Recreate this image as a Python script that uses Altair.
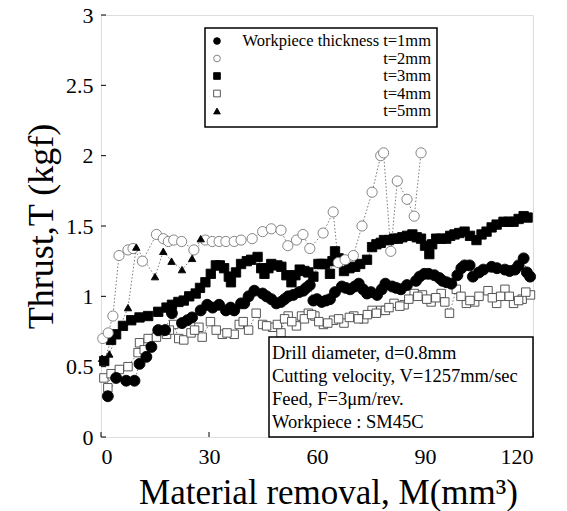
import altair as alt
import pandas as pd

# ---- data ----
m_t1 = [1.9, 4.2, 7.0, 9.3, 10.7, 12.6, 14.0, 15.9, 17.8, 19.7, 22.5, 25.3, 27.7, 29.5, 32.8, 34.7, 37.0, 38.9,
        39.8, 42.6, 44.9, 47.3, 48.7, 51.0, 53.4, 56.2, 58.0, 59.0, 61.3, 63.6, 66.9, 69.2, 71.6, 73.9, 76.7,
        79.0, 80.9, 83.3, 87.5, 89.8, 92.6, 94.9, 97.3, 100.1, 102.4, 103.3, 106.2, 108.5, 112.2, 115.0, 117.4, 119.2,
        24.0, 31.0, 36.0, 41.0, 46.0, 50.0, 52.0, 55.0, 57.0, 60.0, 62.5, 65.0, 68.0, 70.5, 72.8, 75.0, 78.0,
        82.0, 85.0, 88.5, 91.0, 94.0, 96.0, 99.0, 101.0, 105.0, 110.0, 113.5, 116.0, 118.3]
thrust_t1 = [0.29, 0.42, 0.40, 0.40, 0.52, 0.57, 0.64, 0.76, 0.76, 0.88, 0.81, 0.85, 0.90, 0.94, 0.94, 0.90, 0.90, 0.95,
             0.95, 1.04, 1.02, 0.98, 0.95, 0.98, 1.01, 1.04, 1.08, 0.97, 0.96, 0.98, 1.07, 1.05, 1.09, 1.02, 1.01,
             1.09, 1.07, 1.05, 1.11, 1.16, 1.15, 1.11, 1.09, 1.20, 1.22, 1.14, 1.19, 1.21, 1.19, 1.19, 1.27, 1.14,
             0.83, 0.92, 0.92, 1.00, 1.00, 0.96, 1.00, 1.03, 1.06, 0.98, 0.97, 1.03, 1.06, 1.07, 1.05, 1.03, 1.05,
             1.06, 1.08, 1.14, 1.16, 1.13, 1.10, 1.15, 1.22, 1.17, 1.20, 1.18, 1.22, 1.17]

m_t2 = [0.5, 2.0, 3.3, 5.0, 7.5, 8.9, 11.5, 15.4, 17.3, 18.7, 20.2, 22.4, 25.8, 29.0, 30.9, 32.8, 34.7, 37.0, 38.9,
        42.0, 44.9, 47.3, 50.0, 51.9, 54.3, 56.1, 58.0, 61.7, 64.5, 65.9, 67.8, 70.1, 72.5, 75.3, 77.7, 78.5,
        80.5, 82.3, 85.0, 87.0, 88.9]
thrust_t2 = [0.70, 0.74, 0.86, 1.29, 1.33, 1.34, 1.25, 1.44, 1.41, 1.39, 1.40, 1.39, 1.33, 1.40, 1.39, 1.39, 1.39, 1.39, 1.40,
             1.41, 1.46, 1.48, 1.47, 1.36, 1.40, 1.44, 1.34, 1.45, 1.60, 1.24, 1.26, 1.29, 1.50, 1.74, 2.00, 2.02,
             1.32, 1.82, 1.69, 1.57, 2.02]

m_t3 = [0.9, 2.8, 4.2, 6.1, 8.4, 10.7, 13.1, 15.9, 18.2, 19.7, 23.0, 26.3, 29.0, 31.9, 34.2, 36.1, 37.5, 38.9,
        41.7, 43.5, 45.4, 47.3, 50.1, 52.9, 55.2, 57.6, 59.0, 60.4, 62.2, 63.6, 65.0, 67.5, 70.6, 73.9, 75.3, 77.7,
        78.6, 81.4, 83.7, 86.5, 88.9, 91.2, 93.1, 95.9, 98.2, 101.0, 104.3, 107.1, 109.9, 111.8, 114.6, 117.4,
        21.5, 24.5, 27.5, 30.5, 33.0, 35.5, 40.5, 44.5, 46.5, 49.0, 51.5, 54.0, 56.5, 61.3, 64.3, 66.0, 69.0,
        72.0, 76.5, 80.0, 82.5, 85.0, 87.7, 90.0, 92.0, 94.5, 97.0, 99.5, 102.5, 105.7, 108.5, 113.2, 116.0, 118.5]
thrust_t3 = [0.54, 0.69, 0.73, 0.79, 0.83, 0.85, 0.86, 0.89, 0.92, 0.94, 0.97, 1.02, 1.10, 1.22, 1.20, 1.10, 1.17, 1.23,
             1.26, 1.28, 1.16, 1.23, 1.21, 1.10, 1.19, 1.17, 1.14, 1.23, 1.23, 1.16, 1.32, 1.18, 1.21, 1.26, 1.35, 1.38,
             1.40, 1.41, 1.42, 1.44, 1.41, 1.30, 1.41, 1.41, 1.44, 1.46, 1.40, 1.46, 1.51, 1.53, 1.53, 1.57,
             0.96, 1.00, 1.06, 1.16, 1.22, 1.14, 1.25, 1.20, 1.20, 1.22, 1.15, 1.15, 1.18, 1.23, 1.25, 1.27, 1.20,
             1.23, 1.37, 1.40, 1.41, 1.43, 1.42, 1.36, 1.37, 1.41, 1.43, 1.45, 1.43, 1.44, 1.49, 1.53, 1.55, 1.56]

m_t4 = [0.8, 1.9, 2.8, 5.1, 7.5, 10.3, 10.7, 13.1, 15.4, 18.2, 20.2, 21.6, 23.0, 25.0, 27.2, 28.1, 30.4, 33.7, 37.0, 38.4,
        41.0, 43.1, 44.9, 47.7, 50.0, 52.0, 54.3, 55.7, 57.6, 59.4, 61.8, 64.6, 67.5, 70.2, 73.0, 75.3, 77.7,
        79.0, 81.4, 84.2, 87.0, 89.3, 91.7, 94.5, 96.8, 98.7, 101.5, 103.8, 107.5, 109.9, 112.2, 114.6, 117.0, 119.3,
        12.0, 16.5, 19.0, 26.0, 32.0, 35.0, 39.5, 46.0, 49.0, 51.0, 53.0, 56.5, 58.5, 60.5, 63.0, 66.0, 69.0,
        71.5, 74.0, 76.5, 80.0, 83.0, 85.5, 88.0, 90.5, 93.0, 95.5, 100.0, 102.5, 105.0, 108.7, 111.0, 113.4, 116.0, 118.0]
thrust_t4 = [0.42, 0.35, 0.45, 0.48, 0.50, 0.60, 0.67, 0.70, 0.71, 0.73, 0.80, 0.70, 0.69, 0.74, 0.78, 0.71, 0.82, 0.73, 0.73, 0.80,
             0.76, 0.88, 0.80, 0.78, 0.74, 0.86, 0.79, 0.86, 0.88, 0.86, 0.80, 0.83, 0.81, 0.86, 0.84, 0.90, 0.90,
             0.90, 0.95, 0.94, 1.02, 1.01, 0.96, 1.02, 0.88, 1.05, 0.95, 0.96, 1.04, 0.95, 1.05, 0.95, 0.98, 1.01,
             0.62, 0.75, 0.76, 0.76, 0.76, 0.74, 0.82, 0.79, 0.80, 0.84, 0.82, 0.84, 0.87, 0.82, 0.81, 0.84, 0.85,
             0.84, 0.87, 0.88, 0.92, 0.93, 0.98, 1.00, 0.98, 0.99, 0.96, 1.00, 0.97, 1.00, 0.99, 1.00, 1.00, 0.97, 1.03]

m_t5 = [0.3, 2.3, 7.5, 9.8, 15.0, 17.3, 19.6, 22.5, 25.3, 27.7]
thrust_t5 = [0.56, 0.59, 0.92, 1.35, 1.14, 1.32, 1.25, 1.19, 1.27, 1.41]

series_names = ["t=1mm", "t=2mm", "t=3mm", "t=4mm", "t=5mm"]
legend_labels = ["Workpiece thickness t=1mm", "t=2mm", "t=3mm", "t=4mm", "t=5mm"]
note_lines = ["Drill diameter, d=0.8mm", "Cutting velocity, V=1257mm/sec",
              "Feed, F=3\u03bcm/rev.", "Workpiece : SM45C"]
x_ticks = [0, 30, 60, 90, 120]
y_ticks = [0, 0.5, 1, 1.5, 2, 2.5, 3]

# ---- tables ----
parts = []
for name, ms, ts, order in [("t=4mm", m_t4, thrust_t4, 1), ("t=1mm", m_t1, thrust_t1, 2),
                            ("t=3mm", m_t3, thrust_t3, 3), ("t=2mm", m_t2, thrust_t2, 4),
                            ("t=5mm", m_t5, thrust_t5, 5)]:
    parts.append(pd.DataFrame({"M": ms, "T": ts, "series": name, "z": order}))
df = pd.concat(parts, ignore_index=True)

leg = pd.DataFrame({"series": series_names, "label": legend_labels, "row": list(range(5))})
notes = pd.DataFrame({"text": note_lines, "row": list(range(4))})

FONT = "Liberation Serif"
W, H = 432, 422

shape_scale = alt.Scale(domain=series_names,
                        range=["circle", "circle", "square", "square", "triangle-up"])
fill_scale = alt.Scale(domain=series_names,
                       range=["black", "white", "black", "white", "black"])
stroke_scale = alt.Scale(domain=series_names,
                         range=["black", "#777777", "black", "#444444", "black"])
size_scale = alt.Scale(domain=series_names, range=[120, 55, 120, 110, 110])

xs = alt.Scale(domain=[0, 120], nice=False, zero=True)
ys = alt.Scale(domain=[0, 3], nice=False, zero=True)

base = alt.Chart(df)

lines = base.mark_line(strokeWidth=0.8, strokeDash=[1.5, 2], color="#555555").encode(
    x=alt.X("M:Q", scale=xs,
            axis=alt.Axis(values=x_ticks, title="Material removal, M(mm\u00b3)", grid=False,
                          domain=False, ticks=False, labelPadding=9, titlePadding=8, titleX=227,
                          titleFontSize=35, labelFont=FONT, labelFontSize=22)),
    y=alt.Y("T:Q", scale=ys,
            axis=alt.Axis(values=y_ticks, format="~g", title="Thrust,T (kgf)", grid=False,
                          domain=False, ticks=False, labelPadding=8, titlePadding=5,
                          titleFontSize=36, labelFont=FONT, labelFontSize=22)),
    detail="series:N",
    order="M:Q",
)

points = base.mark_point(filled=False, opacity=1, strokeWidth=0.9).encode(
    x=alt.X("M:Q", scale=xs),
    y=alt.Y("T:Q", scale=ys),
    shape=alt.Shape("series:N", scale=shape_scale, legend=None),
    fill=alt.Fill("series:N", scale=fill_scale, legend=None),
    stroke=alt.Stroke("series:N", scale=stroke_scale, legend=None),
    size=alt.Size("series:N", scale=size_scale, legend=None),
    order="z:Q",
)

# inner tick marks
xtick_df = pd.DataFrame({"M": x_ticks})
ytick_df = pd.DataFrame({"T": y_ticks})
xt = alt.Chart(xtick_df).mark_rule(color="black", strokeWidth=1).encode(
    x=alt.X("M:Q", scale=xs), y=alt.value(H), y2=alt.value(H - 5))
yt = alt.Chart(ytick_df).mark_rule(color="black", strokeWidth=1).encode(
    y=alt.Y("T:Q", scale=ys), x=alt.value(0), x2=alt.value(5))

# legend box
one = pd.DataFrame({"a": [0]})
leg_box = alt.Chart(one).mark_rect(fill="white", stroke="black", strokeWidth=1.5).encode(
    x=alt.value(104), x2=alt.value(336), y=alt.value(13), y2=alt.value(112))
leg_pts = alt.Chart(leg).transform_calculate(
    py="26 + datum.row * 17.5").mark_point(opacity=1, strokeWidth=0.9).encode(
    x=alt.value(116),
    y=alt.Y("py:Q", scale=None),
    shape=alt.Shape("series:N", scale=shape_scale, legend=None),
    fill=alt.Fill("series:N", scale=fill_scale, legend=None),
    stroke=alt.Stroke("series:N", scale=stroke_scale, legend=None),
    size=alt.value(45),
)
leg_txt = alt.Chart(leg).transform_calculate(
    py="26 + datum.row * 17.5").mark_text(
    align="right", baseline="middle", font=FONT, fontSize=16.5, color="black").encode(
    x=alt.value(330), y=alt.Y("py:Q", scale=None), text="label:N")

# annotation box
note_box = alt.Chart(one).mark_rect(fill="white", stroke="black", strokeWidth=1.5).encode(
    x=alt.value(168), x2=alt.value(W), y=alt.value(322), y2=alt.value(H))
note_txt = alt.Chart(notes).transform_calculate(
    py="338 + datum.row * 23").mark_text(
    align="left", baseline="middle", font=FONT, fontSize=18.5, color="black").encode(
    x=alt.value(171), y=alt.Y("py:Q", scale=None), text="text:N")

chart = alt.layer(lines, points, xt, yt, note_box, note_txt, leg_box, leg_pts, leg_txt).properties(
    width=W, height=H,
    autosize=alt.AutoSizeParams(type="none"),
    padding={"left": 101, "top": 15, "right": 34, "bottom": 74},
).configure_view(stroke="black", strokeWidth=2).configure(background="white").configure_axis(
    labelFont=FONT, labelFontSize=22, labelColor="black",
    titleFont=FONT, titleFontWeight="normal", titleColor="black",
)

chart.save("out.html", embed_options={"renderer": "svg", "actions": False})
